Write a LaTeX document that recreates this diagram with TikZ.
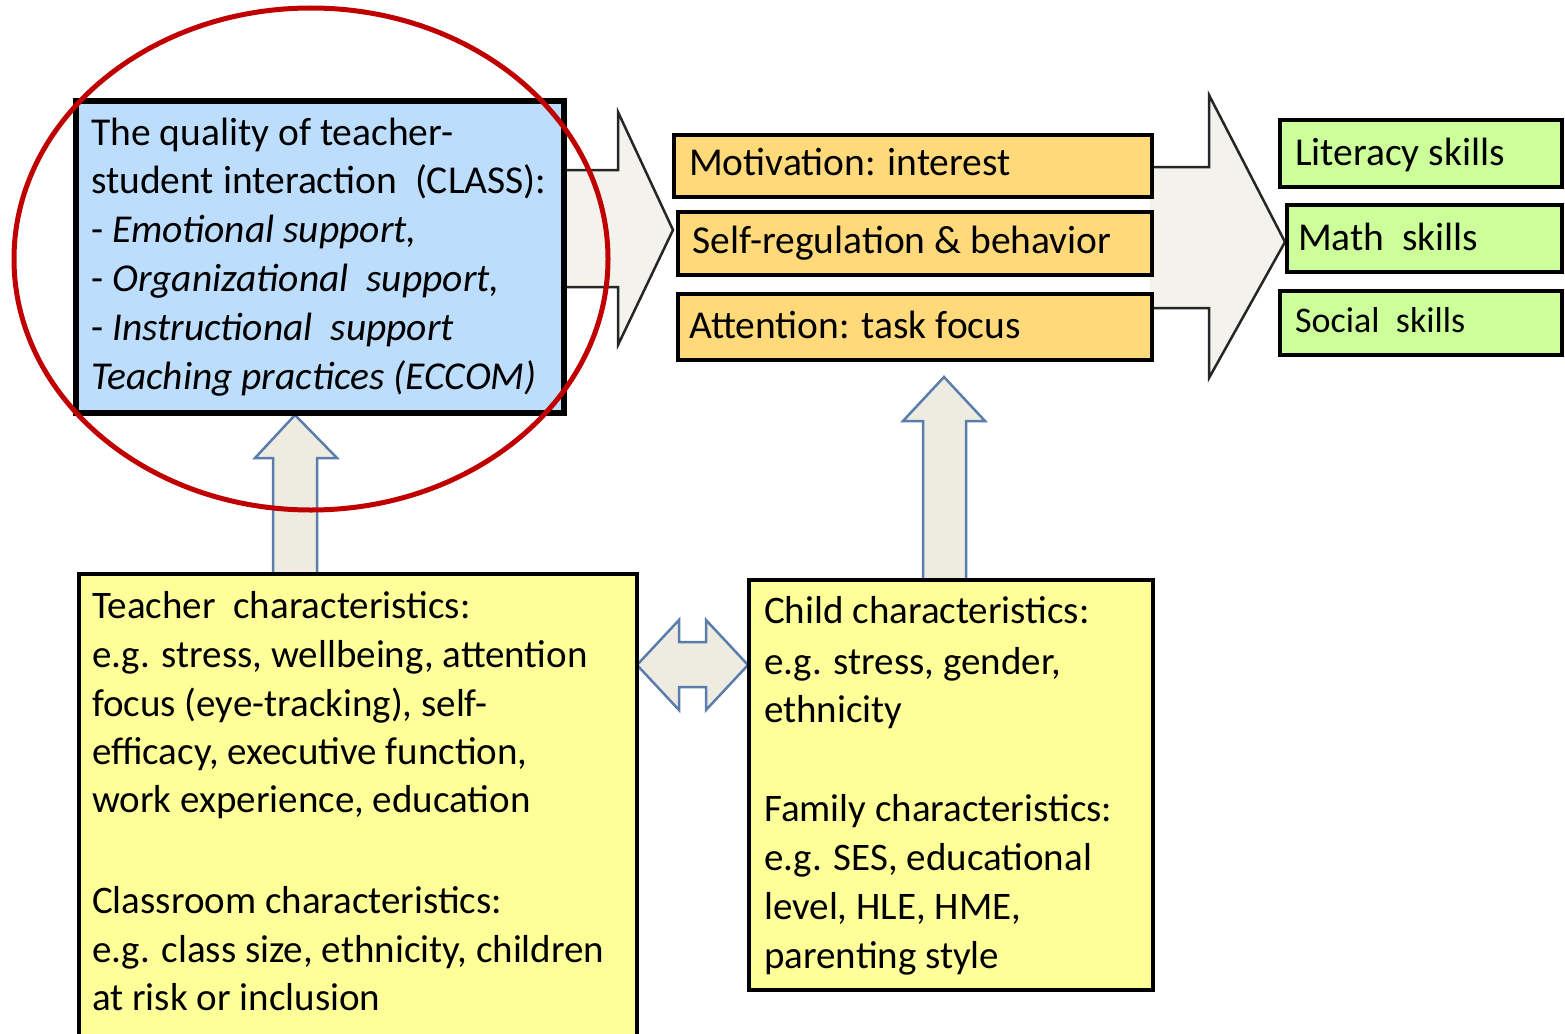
\documentclass[tikz,border=0pt]{standalone}
\usepackage{fontspec}
\setmainfont{Carlito}
\definecolor{bluefill}{HTML}{BDDDFD}
\definecolor{orangefill}{HTML}{FFD97A}
\definecolor{greenfill}{HTML}{CCFF99}
\definecolor{yellowfill}{HTML}{FFFF99}
\definecolor{bigarrowfill}{HTML}{F3F2EC}
\definecolor{uparrowfill}{HTML}{EEECE1}
\definecolor{uparrowline}{HTML}{5B7DAE}
\definecolor{ringred}{HTML}{C00000}
\tikzset{
  boxbase/.style={draw=black, inner sep=0pt, outer sep=0pt, anchor=north west},
  bluebox/.style={boxbase, fill=bluefill, line width=6pt},
  orangebox/.style={boxbase, fill=orangefill, line width=3.5pt},
  greenbox/.style={boxbase, fill=greenfill, line width=3.5pt},
  yellowbox/.style={boxbase, fill=yellowfill, line width=3.5pt},
  bigarrow/.style={draw=black!85, line width=2.5pt, line join=miter},
  blockarrow/.style={fill=uparrowfill, draw=uparrowline, line width=2.5pt, line join=miter},
  txt/.style={inner sep=0pt, anchor=base west, font=\fontsize{39.5}{48}\selectfont},
  lowtxt/.style={txt, font=\fontsize{39}{48}\selectfont},
  smalltxt/.style={txt, font=\fontsize{36}{44}\selectfont},
  ring/.style={draw=ringred, line width=5pt}
}
\begin{document}
\begin{tikzpicture}[x=1pt,y=-1pt]
\useasboundingbox (0,0) rectangle (1565,1033);

% block arrows (behind boxes)
\fill[bigarrowfill] (560,170) -- (618,170) -- (618,112) -- (673,230) -- (618,345) -- (618,287) -- (560,287) -- cycle;
\draw[bigarrow] (565,170) -- (618,170) -- (618,112) -- (673,230) -- (618,345) -- (618,287) -- (565,287);

\fill[bigarrowfill] (1150,167) -- (1209,167) -- (1209,95) -- (1285,242) -- (1209,378) -- (1209,308) -- (1150,308) -- cycle;
\draw[bigarrow] (1153,167) -- (1209,167) -- (1209,95) -- (1285,242) -- (1209,378) -- (1209,308) -- (1153,308);

% up arrows
\draw[blockarrow] (273,574) -- (273,458) -- (255,458) -- (295,415) -- (337,458) -- (317,458) -- (317,574);
\draw[blockarrow] (923,580) -- (923,421) -- (903,421) -- (944,377) -- (985,421) -- (966,421) -- (966,580);

% double arrow
\draw[blockarrow] (637,665) -- (679,620) -- (679,642) -- (706,642) -- (706,620) -- (748,665)
  -- (706,710) -- (706,687) -- (679,687) -- (679,710) -- cycle;

% boxes
\node[bluebox, minimum width=488pt, minimum height=312pt] (quality) at (76,101) {};
\node[orangebox, minimum width=478pt, minimum height=62pt] (motivation) at (674,135) {};
\node[orangebox, minimum width=474pt, minimum height=63pt] (selfreg) at (678,212) {};
\node[orangebox, minimum width=474pt, minimum height=66pt] (attention) at (678,294) {};
\node[greenbox, minimum width=282pt, minimum height=67pt] (literacy) at (1280,120) {};
\node[greenbox, minimum width=275pt, minimum height=67pt] (math) at (1287,205) {};
\node[greenbox, minimum width=282pt, minimum height=64pt] (social) at (1280,291) {};
\node[yellowbox, minimum width=558pt, minimum height=480pt] (teacher) at (79,574) {};
\node[yellowbox, minimum width=404pt, minimum height=410pt] (child) at (749,580) {};

% texts in the quality box
\foreach \t [count=\i] in {
  {The quality of teacher-},
  {student interaction \ (CLASS):},
  {- \textit{Emotional support,}},
  {- \textit{Organizational \ support,}},
  {- \textit{Instructional \ support}},
  {\textit{Teaching practices (ECCOM)}}}
  \node[txt, name=q\i] at (91,{145+48.8*(\i-1)}) {\t};

\node[txt] (tmot) at (689,175) {Motivation: interest};
\node[txt] (tself) at (692,253) {Self-regulation \& behavior};
\node[txt] (tatt) at (689,338) {Attention: task focus};

\node[txt] (tlit) at (1295,165) {Literacy skills};
\node[txt] (tmath) at (1298,250) {Math \ skills};
\node[smalltxt] (tsoc) at (1295,332) {Social \ skills};

\foreach \t/\yy [count=\i] in {
  {Teacher \ characteristics:}/618,
  {e.g. stress, wellbeing, attention}/667,
  {focus (eye-tracking), self-}/716,
  {efficacy, executive function,}/764,
  {work experience, education}/812,
  {Classroom characteristics:}/913,
  {e.g. class size, ethnicity, children}/962,
  {at risk or inclusion}/1010}
  \node[lowtxt, name=tc\i] at (92,\yy) {\t};

\foreach \t/\yy [count=\i] in {
  {Child characteristics:}/623,
  {e.g. stress, gender,}/674,
  {ethnicity}/722,
  {Family characteristics:}/821,
  {e.g. SES, educational}/870,
  {level, HLE, HME,}/919,
  {parenting style}/968}
  \node[lowtxt, name=cc\i] at (764,\yy) {\t};

% red ellipse
\draw[ring] (311,259) ellipse [x radius=297, y radius=251];
\end{tikzpicture}
\end{document}
